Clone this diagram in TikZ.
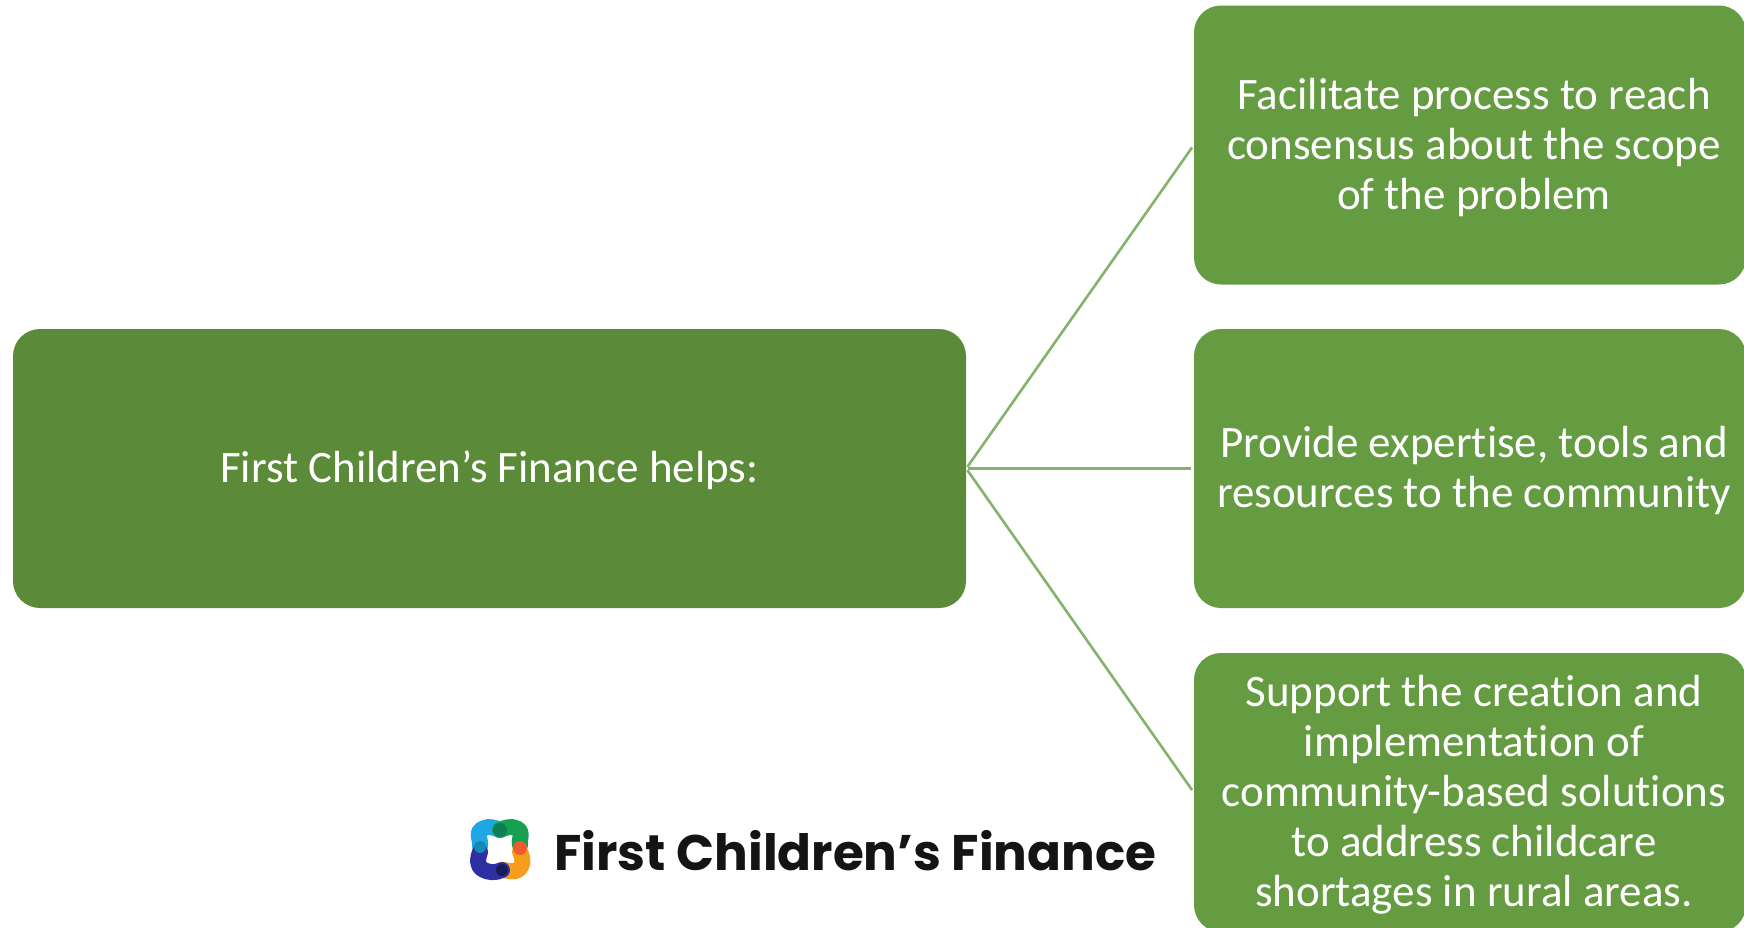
\documentclass[tikz,border=0pt]{standalone}
\usepackage{fontspec}
\setmainfont{Carlito}[Ligatures=NoCommon]
\newfontfamily\logofont{Poppins}[BoldFont={Poppins Bold}]
\definecolor{mainfill}{HTML}{5B8A38}
\definecolor{boxfill}{HTML}{669C41}
\definecolor{linkcol}{HTML}{84B46B}
\definecolor{lblue}{HTML}{1FA6E4}
\definecolor{lteal}{HTML}{1389B4}
\definecolor{lgreen}{HTML}{17A04F}
\definecolor{ldgreen}{HTML}{0C7F56}
\definecolor{lred}{HTML}{EE5A2B}
\definecolor{lorange}{HTML}{F89C1C}
\definecolor{lnavy}{HTML}{2E2FA3}
\definecolor{ldark}{HTML}{1B1B5A}
\newcommand{\shifted}[2][8pt]{\vbox{\kern8pt\hbox{\kern#1\begin{tabular}{@{}c@{}}#2\end{tabular}}}}
\tikzset{
  x=1pt,y=-1pt,
  box/.style={rectangle,rounded corners=27pt,minimum height=279pt,inner sep=0pt,align=center,text=white,
    font=\fontsize{45}{50}\selectfont},
  childbox/.style={box,fill=boxfill,minimum width=552pt},
  mainbox/.style={box,fill=mainfill,minimum width=953pt},
  link/.style={draw=linkcol,line width=2.6pt,shorten >=3pt,shorten <=2pt},
  seg/.style={line width=16pt,line cap=round,line join=round},
}
\begin{document}
\begin{tikzpicture}
\useasboundingbox (0,0) rectangle (1744,927);
\fill[white] (0,0) rectangle (1744,927);
\node[mainbox] (main) at (489.5,468.5) {\shifted[0pt]{First Children’s Finance helps:}};
\node[childbox] (a) at (1470,145) {\shifted{Facilitate process to reach\\consensus about the scope\\of the problem}};
\node[childbox] (b) at (1470,468.5) {\shifted{Provide expertise, tools and\\resources to the community}};
\node[childbox] (c) at (1470,792.5) {\shifted{Support the creation and\\implementation of\\community-based solutions\\to address childcare\\shortages in rural areas.}};
\draw[link] (main.east) -- (a.west);
\draw[link] (main.east) -- (b.west);
\draw[link] (main.east) -- (c.west);
% logo
\draw[seg,draw=lblue] (480,846) .. controls (481,838) and (475,834) .. (482,829) .. controls (488,825) and (496,828) .. (500,830);
\draw[seg,draw=lgreen] (500,830) .. controls (504,828) and (512,825) .. (518,829) .. controls (524,834) and (518,840) .. (520,845);
\draw[seg,draw=lorange] (520,852) .. controls (524,860) and (523,866) .. (518,870) .. controls (513,873) and (507,870) .. (502,870);
\draw[seg,draw=lnavy] (502,870) .. controls (496,873) and (488,873) .. (482,869) .. controls (476,864) and (478,858) .. (480,852);
\fill[lred] (520,848) circle (7pt);
\fill[ldgreen] (500,830) circle (7pt);
\fill[lteal] (480,847) circle (6pt);
\fill[ldark] (502,870) circle (6pt);
\node[anchor=west,inner sep=0pt,font=\logofont\bfseries\fontsize{50}{50}\selectfont,text=black!92] (logo) at (554,851) {First Children’s Finance};
\end{tikzpicture}
\end{document}
